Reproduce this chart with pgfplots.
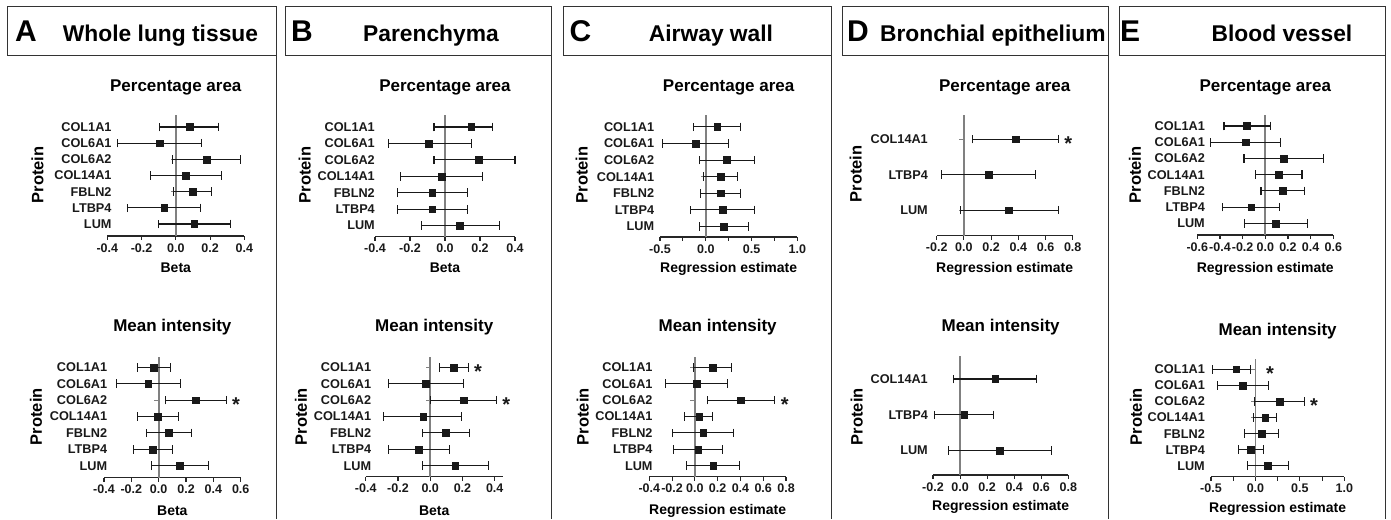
\documentclass[border=0pt]{standalone}
\usepackage{fontspec}
\setmainfont{Liberation Sans}
\usepackage{pgfplots}
\pgfplotsset{compat=1.18}
\usepackage{pgfplotstable}

\newcommand{\fTick}{\fontsize{12.5}{14}\selectfont\bfseries}
\newcommand{\fLab}{\fontsize{12.7}{14}\selectfont\bfseries}
\newcommand{\fTitle}{\fontsize{17}{20}\selectfont\bfseries}
\newcommand{\fAx}{\fontsize{14}{16}\selectfont\bfseries}
\newcommand{\fProt}{\fontsize{16.5}{18}\selectfont\bfseries}
\newcommand{\fHead}{\fontsize{22.8}{26}\selectfont\bfseries}
\newcommand{\fLet}{\fontsize{30}{34}\selectfont\bfseries}
\newcommand{\fStar}{\fontsize{20}{22}\selectfont\bfseries}

% r = row (1 = bottom), m = estimate, l = lower CI, h = upper CI
\pgfplotstableread{
r m l h
7 0.080 -0.095 0.250
6 -0.095 -0.340 0.148
5 0.180 -0.020 0.380
4 0.060 -0.146 0.268
3 0.100 -0.014 0.210
2 -0.068 -0.280 0.144
1 0.107 -0.100 0.317
}\Atop
\pgfplotstableread{
r m l h
7 -0.034 -0.154 0.088
6 -0.076 -0.310 0.159
5 0.270 0.051 0.495
4 -0.005 -0.154 0.144
3 0.076 -0.088 0.239
2 -0.041 -0.183 0.100
1 0.156 -0.051 0.366
}\Abot
\pgfplotstableread{
r m l h
7 0.150 -0.063 0.274
6 -0.091 -0.324 0.151
5 0.192 -0.063 0.400
4 -0.019 -0.253 0.215
3 -0.073 -0.270 0.130
2 -0.073 -0.270 0.130
1 0.085 -0.133 0.309
}\Btop
\pgfplotstableread{
r m l h
7 0.148 0.060 0.237
6 -0.027 -0.258 0.206
5 0.208 0.002 0.410
4 -0.043 -0.289 0.194
3 0.097 -0.047 0.241
2 -0.070 -0.258 0.120
1 0.155 -0.050 0.359
}\Bbot
\pgfplotstableread{
r m l h
7 0.124 -0.131 0.380
6 -0.109 -0.473 0.251
5 0.226 -0.073 0.530
4 0.160 -0.025 0.350
3 0.160 -0.062 0.380
2 0.182 -0.167 0.530
1 0.200 -0.066 0.469
}\Ctop
\pgfplotstableread{
r m l h
7 0.155 -0.009 0.319
6 0.015 -0.255 0.284
5 0.404 0.108 0.702
4 0.038 -0.088 0.158
3 0.073 -0.196 0.342
2 0.029 -0.184 0.243
1 0.161 -0.076 0.392
}\Cbot
\pgfplotstableread{
r m l h
3 0.380 0.064 0.694
2 0.181 -0.167 0.527
1 0.331 -0.025 0.694
}\Dtop
\pgfplotstableread{
r m l h
3 0.259 -0.049 0.564
2 0.030 -0.187 0.244
1 0.293 -0.084 0.675
}\Dbot
\pgfplotstableread{
r m l h
7 -0.162 -0.365 0.047
6 -0.174 -0.482 0.135
5 0.162 -0.188 0.515
4 0.118 -0.085 0.324
3 0.153 -0.038 0.347
2 -0.124 -0.376 0.129
1 0.094 -0.185 0.371
}\Etop
\pgfplotstableread{
r m l h
7 -0.217 -0.480 -0.060
6 -0.142 -0.427 0.146
5 0.274 -0.015 0.547
4 0.109 -0.022 0.232
3 0.067 -0.127 0.262
2 -0.052 -0.195 0.094
1 0.142 -0.086 0.375
}\Ebot

\pgfplotsset{
  fp/.style={
    scale only axis, clip=false, enlargelimits=false,
    axis x line*=bottom, axis y line*=left,
    y axis line style={draw=none},
    ytick style={draw=none},
    x axis line style={line width=1.1pt, black!85},
    xtick style={line width=1.1pt, black!85},
    minor x tick style={line width=1.1pt, black!85},
    tick align=outside, major tick length=4pt, minor tick length=4pt,
    extra x ticks={0}, extra x tick labels={},
    extra x tick style={grid=major, major grid style={black!50, line width=1.7pt}, xtick style={draw=none}},
    xticklabel={\pgfmathprintnumber[fixed,fixed zerofill,precision=1,assume math mode=true]{\tick}},
    every x tick label/.append style={font=\fTick, text=black!90},
    every y tick label/.append style={font=\fLab, text=black!90, anchor=east, inner sep=0pt},
    ytick={1,2,3,4,5,6,7},
    yticklabels={LUM,LTBP4,FBLN2,COL14A1,COL6A2,COL6A1,COL1A1},
  },
  fp3/.style={fp, ytick={1,2,3}, yticklabels={LUM,LTBP4,COL14A1}},
}

% small tick marks of the zero line (Prism's y axis ticks)
\newcommand{\zt}[1]{%
  \pgfplotsinvokeforeach{1,...,#1}{\draw[black!50, line width=1pt] (axis cs:0,##1) -- ++(-4.5pt,0pt);}}

\newcommand{\fplot}[1]{%
  \addplot[black!90, only marks, mark=square*, mark size=3.4pt,
    mark options={fill=black!90, draw=black!90},
    error bars/.cd, x dir=both, x explicit,
    error bar style={line width=1.1pt, black!90},
    error mark options={rotate=90, line width=1.1pt, mark size=4.3pt, black!90}]
  table[x=m, y=r, x error plus expr=\thisrow{h}-\thisrow{m}, x error minus expr=\thisrow{m}-\thisrow{l}] {#1};}

\newcommand{\stars}[1]{%
  \addplot[draw=none, mark=none, nodes near coords={\fStar *},
    every node near coord/.append style={inner sep=0pt, anchor=base, yshift=-11.2pt, text=black!90}]
  coordinates {#1};}

\begin{document}
\begin{tikzpicture}
\useasboundingbox (0pt,0pt) rectangle (1391pt,519pt);

% panel frames
\foreach \a/\b in {7/276, 285/551.5, 563/831, 842/1108, 1119/1385.5}{
  \draw[line width=1pt, black!80] (\a pt,463pt) rectangle (\b pt,512pt);
  \draw[line width=1pt, black!80] (\b pt,463pt) -- (\b pt,0pt);
}

% headers
\node[anchor=base west, inner sep=0pt] at (15pt,477.3pt) {\fLet A};
\node[anchor=base, inner sep=0pt] at (160.5pt,477.3pt) {\fHead Whole lung tissue};
\node[anchor=base west, inner sep=0pt] at (291pt,477.3pt) {\fLet B};
\node[anchor=base, inner sep=0pt] at (431pt,477.3pt) {\fHead Parenchyma};
\node[anchor=base west, inner sep=0pt] at (569.5pt,477.3pt) {\fLet C};
\node[anchor=base, inner sep=0pt] at (711pt,477.3pt) {\fHead Airway wall};
\node[anchor=base west, inner sep=0pt] at (847pt,477.3pt) {\fLet D};
\node[anchor=base, inner sep=0pt] at (992.8pt,477.3pt) {\fHead Bronchial epithelium};
\node[anchor=base west, inner sep=0pt] at (1120pt,477.3pt) {\fLet E};
\node[anchor=base, inner sep=0pt] at (1282pt,477.3pt) {\fHead Blood vessel};

% subplot titles
\foreach \x in {175.8, 445, 728.65, 1004.7, 1265.3}{
  \node[anchor=base, inner sep=0pt] at (\x pt,427.5pt) {\fTitle Percentage area};}
\foreach \x/\y in {172.35/187.3, 434.25/187.3, 717.65/187.3, 1000.65/187.3, 1277.65/183.7}{
  \node[anchor=base, inner sep=0pt] at (\x pt,\y pt) {\fTitle Mean intensity};}

% x axis labels
\node[anchor=base, inner sep=0pt] at (175.8pt,246.5pt) {\fAx Beta};
\node[anchor=base, inner sep=0pt] at (445pt,246.5pt) {\fAx Beta};
\node[anchor=base, inner sep=0pt] at (728.65pt,246.5pt) {\fAx Regression estimate};
\node[anchor=base, inner sep=0pt] at (1004.7pt,246.5pt) {\fAx Regression estimate};
\node[anchor=base, inner sep=0pt] at (1265.3pt,246.5pt) {\fAx Regression estimate};
\node[anchor=base, inner sep=0pt] at (172.35pt,3pt) {\fAx Beta};
\node[anchor=base, inner sep=0pt] at (434.25pt,4pt) {\fAx Beta};
\node[anchor=base, inner sep=0pt] at (717.65pt,5pt) {\fAx Regression estimate};
\node[anchor=base, inner sep=0pt] at (1000.65pt,8.3pt) {\fAx Regression estimate};
\node[anchor=base, inner sep=0pt] at (1277.65pt,6.7pt) {\fAx Regression estimate};

% Protein labels
\foreach \x/\y in {37.5/344, 36/102.3, 304.7/344, 301/102.3, 581.7/344, 582.7/102.3, 855.7/345, 856.7/102.3, 1135/344, 1136/102.3}{
  \node[rotate=90, anchor=center, inner sep=0pt] at (\x pt,\y pt) {\fProt Protein};}

% ---- A
\begin{axis}[fp, at={(107.3pt,283pt)}, width=137pt, height=121pt,
  xmin=-0.4, xmax=0.4, ymin=0.26, ymax=7.74, xtick={-0.4,-0.2,0,0.2,0.4},
  yticklabel style={xshift=8.4pt}]
\zt{7}
\fplot{\Atop}
\end{axis}
\begin{axis}[fp, at={(104pt,41.3pt)}, width=136.7pt, height=121pt,
  xmin=-0.4, xmax=0.6, ymin=0.27, ymax=7.65, xtick={-0.4,-0.2,0,0.2,0.4,0.6},
  yticklabel style={xshift=7.3pt}]
\zt{7}
\fplot{\Abot}
\stars{(0.566,5)}
\end{axis}
% ---- B
\begin{axis}[fp, at={(375pt,282.3pt)}, width=140pt, height=121.7pt,
  xmin=-0.4, xmax=0.4, ymin=0.33, ymax=7.73, xtick={-0.4,-0.2,0,0.2,0.4},
  yticklabel style={xshift=4pt}]
\zt{7}
\fplot{\Btop}
\end{axis}
\begin{axis}[fp, at={(365.7pt,42.3pt)}, width=137.1pt, height=120pt,
  xmin=-0.4, xmax=0.45, ymin=0.33, ymax=7.65, xtick={-0.4,-0.2,0,0.2,0.4},
  yticklabel style={xshift=9.6pt}]
\zt{7}
\fplot{\Bbot}
\stars{(0.297,7) (0.472,5)}
\end{axis}
% ---- C
\begin{axis}[fp, at={(660pt,282pt)}, width=137.3pt, height=122pt,
  xmin=-0.5, xmax=1.0, ymin=0.36, ymax=7.72, xtick={-0.5,0,0.5,1.0},
  minor xtick={-0.25,0.25,0.75},
  yticklabel style={xshift=-1.7pt}]
\zt{7}
\fplot{\Ctop}
\end{axis}
\begin{axis}[fp, at={(649.3pt,42.3pt)}, width=136.7pt, height=120pt,
  xmin=-0.4, xmax=0.8, ymin=0.33, ymax=7.65, xtick={-0.4,-0.2,0,0.2,0.4,0.6,0.8},
  yticklabel style={xshift=7.4pt}]
\zt{7}
\fplot{\Cbot}
\stars{(0.79,5)}
\end{axis}
% ---- D
\begin{axis}[fp3, at={(936.7pt,283.3pt)}, width=136pt, height=120.7pt,
  xmin=-0.2, xmax=0.8, ymin=0.28, ymax=3.68, xtick={-0.2,0,0.2,0.4,0.6,0.8},
  yticklabel style={xshift=-4.7pt}]
\zt{3}
\fplot{\Dtop}
\stars{(0.767,3)}
\end{axis}
\begin{axis}[fp3, at={(933pt,44pt)}, width=135.3pt, height=119.3pt,
  xmin=-0.2, xmax=0.8, ymin=0.32, ymax=3.65, xtick={-0.2,0,0.2,0.4,0.6,0.8},
  yticklabel style={xshift=-1pt}]
\zt{3}
\fplot{\Dbot}
\end{axis}
% ---- E
\begin{axis}[fp, at={(1197.3pt,284pt)}, width=136pt, height=120pt,
  xmin=-0.6, xmax=0.6, ymin=0.28, ymax=7.68, xtick={-0.6,-0.4,-0.2,0,0.2,0.4,0.6},
  yticklabel style={xshift=11.7pt}]
\zt{7}
\fplot{\Etop}
\end{axis}
\begin{axis}[fp, at={(1211pt,42.3pt)}, width=133.3pt, height=117.7pt,
  xmin=-0.5, xmax=1.0, ymin=0.32, ymax=7.64, xtick={-0.5,0,0.5,1.0},
  minor xtick={-0.25,0.25,0.75},
  yticklabel style={xshift=-2pt}]
\zt{7}
\fplot{\Ebot}
\stars{(0.165,7) (0.66,5)}
\end{axis}
\end{tikzpicture}
\end{document}
